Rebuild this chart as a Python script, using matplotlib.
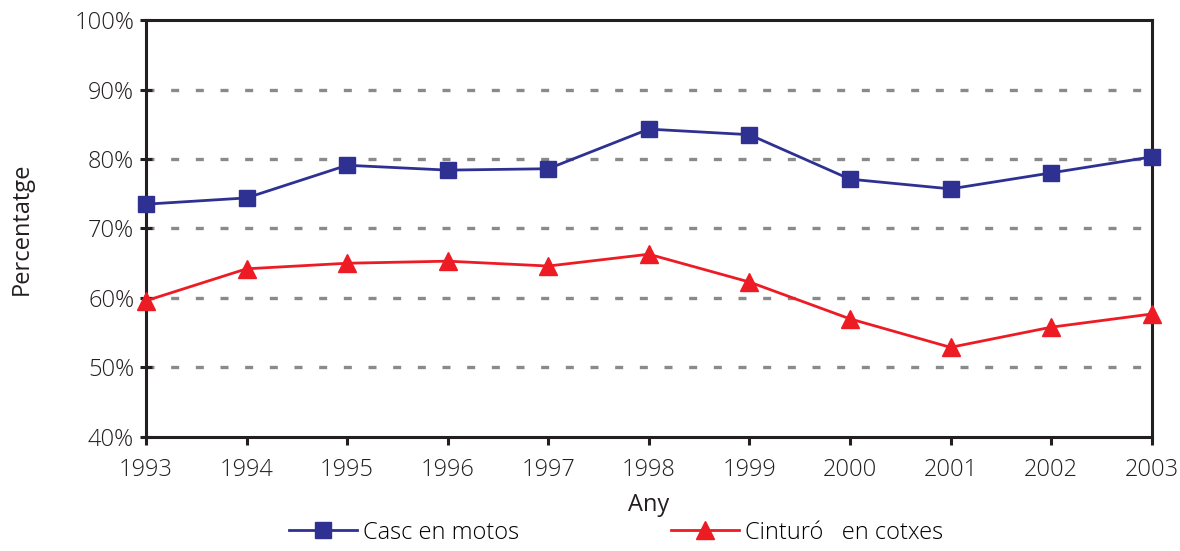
import matplotlib
matplotlib.use("Agg")
import matplotlib.pyplot as plt
from matplotlib.ticker import FuncFormatter

plt.rcParams['font.family'] = ['Open Sans', 'DejaVu Sans']
plt.rcParams['font.weight'] = 'light'

# data
years = [1993, 1994, 1995, 1996, 1997, 1998, 1999, 2000, 2001, 2002, 2003]
casc_motos = [73.5, 74.4, 79.1, 78.4, 78.6, 84.3, 83.5, 77.1, 75.7, 78.0, 80.3]
cinturo_cotxes = [59.6, 64.2, 65.0, 65.3, 64.6, 66.3, 62.3, 57.0, 52.9, 55.8, 57.7]
grid_levels = [50, 60, 70, 80, 90]

fig = plt.figure(figsize=(11.8, 5.51), dpi=100)
ax = fig.add_axes([0.1237, 0.2069, 0.976 - 0.1237, 0.9637 - 0.2069])

for g in grid_levels:
    ax.axhline(g, color="#8a8a8a", lw=2.4, dashes=(2.4, 5.0), zorder=1)

ax.plot(years, casc_motos, color="#2e3192", lw=2, marker="s", ms=11,
        label="Casc en motos", zorder=3, clip_on=False)
ax.plot(years, cinturo_cotxes, color="#ed1c24", lw=2, marker="^", ms=13,
        label="Cinturó   en cotxes", zorder=3, clip_on=False)

ax.set_xlim(1993, 2003)
ax.set_ylim(40, 100)
ax.set_xticks(years)
ax.set_yticks(range(40, 101, 10))
ax.yaxis.set_major_formatter(FuncFormatter(lambda v, p: f"{v:.0f}%"))

for s in ax.spines.values():
    s.set_linewidth(2.2)
    s.set_color("#231f20")
ax.tick_params(axis="y", direction="inout", length=9, width=2.2, labelsize=17,
               pad=4, colors="#231f20")
ax.tick_params(axis="x", direction="out", length=6, width=2.2, labelsize=17,
               pad=9, colors="#231f20")

ax.set_xlabel("Any", fontsize=17, labelpad=8, color="#231f20")
ax.set_ylabel("Percentatge", fontsize=17, labelpad=29, color="#231f20")

fig.legend(loc="lower center", bbox_to_anchor=(0.522, -0.027), ncol=2, frameon=False,
           fontsize=17, handlelength=2.9, columnspacing=6.4, handletextpad=0.25)

fig.savefig("out.png", dpi=100)
